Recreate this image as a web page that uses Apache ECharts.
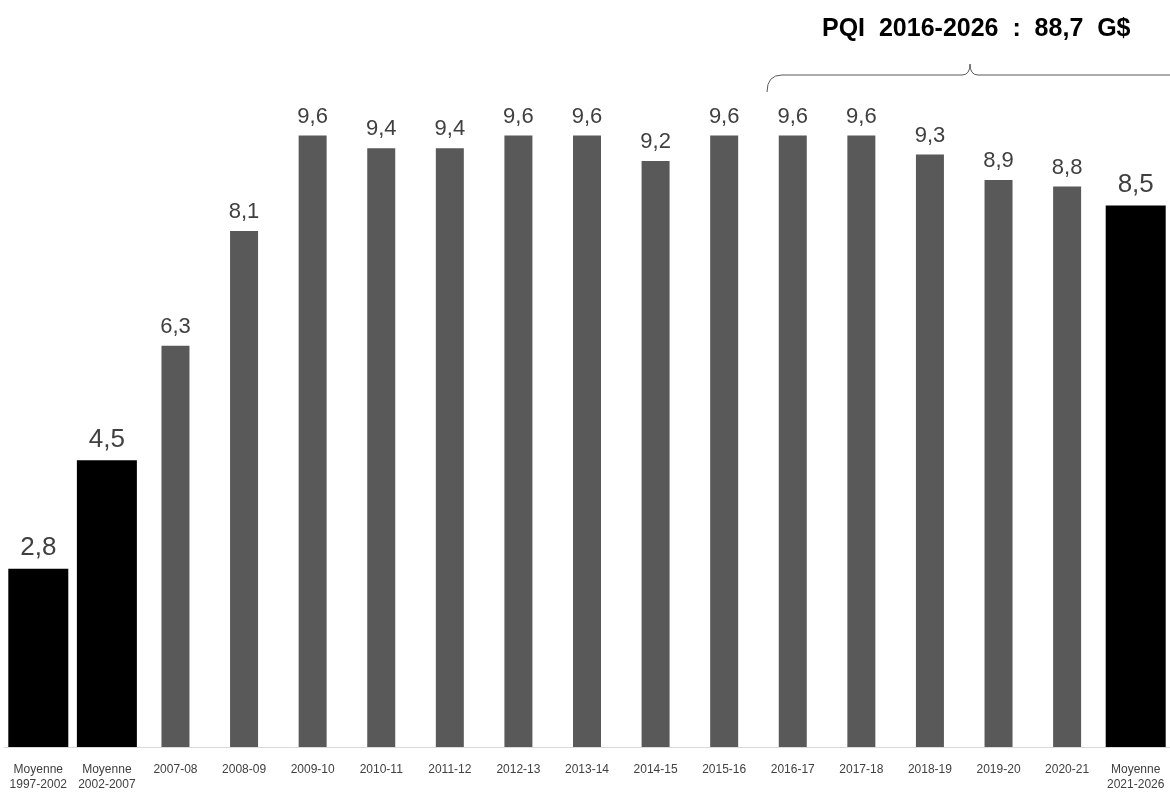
<!DOCTYPE html>
<html>
<head>
<meta charset="utf-8">
<script src="https://cdn.jsdelivr.net/npm/echarts@6/dist/echarts.min.js"></script>
<style>
  html, body { margin: 0; padding: 0; background: #fff; }
  #main { width: 1170px; height: 792px; }
</style>
</head>
<body>
<div id="main"></div>
<script>
// categories and values (G$)
var categories = ['Moyenne\n1997-2002', 'Moyenne\n2002-2007', '2007-08', '2008-09', '2009-10', '2010-11',
  '2011-12', '2012-13', '2013-14', '2014-15', '2015-16', '2016-17', '2017-18', '2018-19',
  '2019-20', '2020-21', 'Moyenne\n2021-2026'];
var averageValues = [2.8, 4.5, null, null, null, null, null, null, null, null, null, null, null, null, null, null, 8.5];
var yearValues = [null, null, 6.3, 8.1, 9.6, 9.4, 9.4, 9.6, 9.6, 9.2, 9.6, 9.6, 9.6, 9.3, 8.9, 8.8, null];
var bracketTitle = 'PQI  2016-2026  :  88,7  G$';

var chart = echarts.init(document.getElementById('main'));

function fmt(p) { return String(p.value).replace('.', ','); }

var bracketStyle = { fill: 'none', stroke: '#595959', lineWidth: 1 };

chart.setOption({
  animation: false,
  grid: { left: 4, right: 0, top: 110, bottom: 43 },
  xAxis: [
    {
      type: 'category',
      data: categories,
      axisLine: { lineStyle: { color: '#d9d9d9' } },
      axisTick: { show: false },
      axisLabel: {
        color: '#404040',
        fontSize: 12,
        fontFamily: 'Liberation Sans',
        lineHeight: 15,
        margin: 15,
        interval: 0
      }
    },
    // second axis only so each series is centred on its category
    { type: 'category', data: categories, show: false }
  ],
  yAxis: { type: 'value', min: 0, max: 10, show: false },
  series: [
    {
      name: 'moyenne',
      type: 'bar',
      xAxisIndex: 0,
      data: averageValues,
      barWidth: 60,
      itemStyle: { color: '#000000' },
      label: { show: true, position: 'top', distance: 8, color: '#404040', fontSize: 26,
        fontFamily: 'Liberation Sans', formatter: fmt }
    },
    {
      name: 'annuel',
      type: 'bar',
      xAxisIndex: 1,
      data: yearValues,
      barWidth: 28,
      itemStyle: { color: '#595959' },
      label: { show: true, position: 'top', distance: 8, color: '#404040', fontSize: 22,
        fontFamily: 'Liberation Sans', formatter: fmt }
    }
  ],
  graphic: [
    {
      type: 'text',
      left: 822, top: 17,
      style: { text: bracketTitle, fill: '#000', font: 'bold 25px "Liberation Sans"' }
    },
    // accolade au-dessus de 2016-2026
    { type: 'bezierCurve', shape: { x1: 767, y1: 92, cpx1: 767, cpy1: 75, x2: 782, y2: 75 }, style: bracketStyle },
    { type: 'line', shape: { x1: 782, y1: 75, x2: 962, y2: 75 }, style: bracketStyle },
    { type: 'bezierCurve', shape: { x1: 962, y1: 75, cpx1: 970, cpy1: 75, x2: 970, y2: 64 }, style: bracketStyle },
    { type: 'bezierCurve', shape: { x1: 970, y1: 64, cpx1: 970, cpy1: 75, x2: 978, y2: 75 }, style: bracketStyle },
    { type: 'line', shape: { x1: 978, y1: 75, x2: 1172, y2: 75 }, style: bracketStyle }
  ]
});
</script>
</body>
</html>
